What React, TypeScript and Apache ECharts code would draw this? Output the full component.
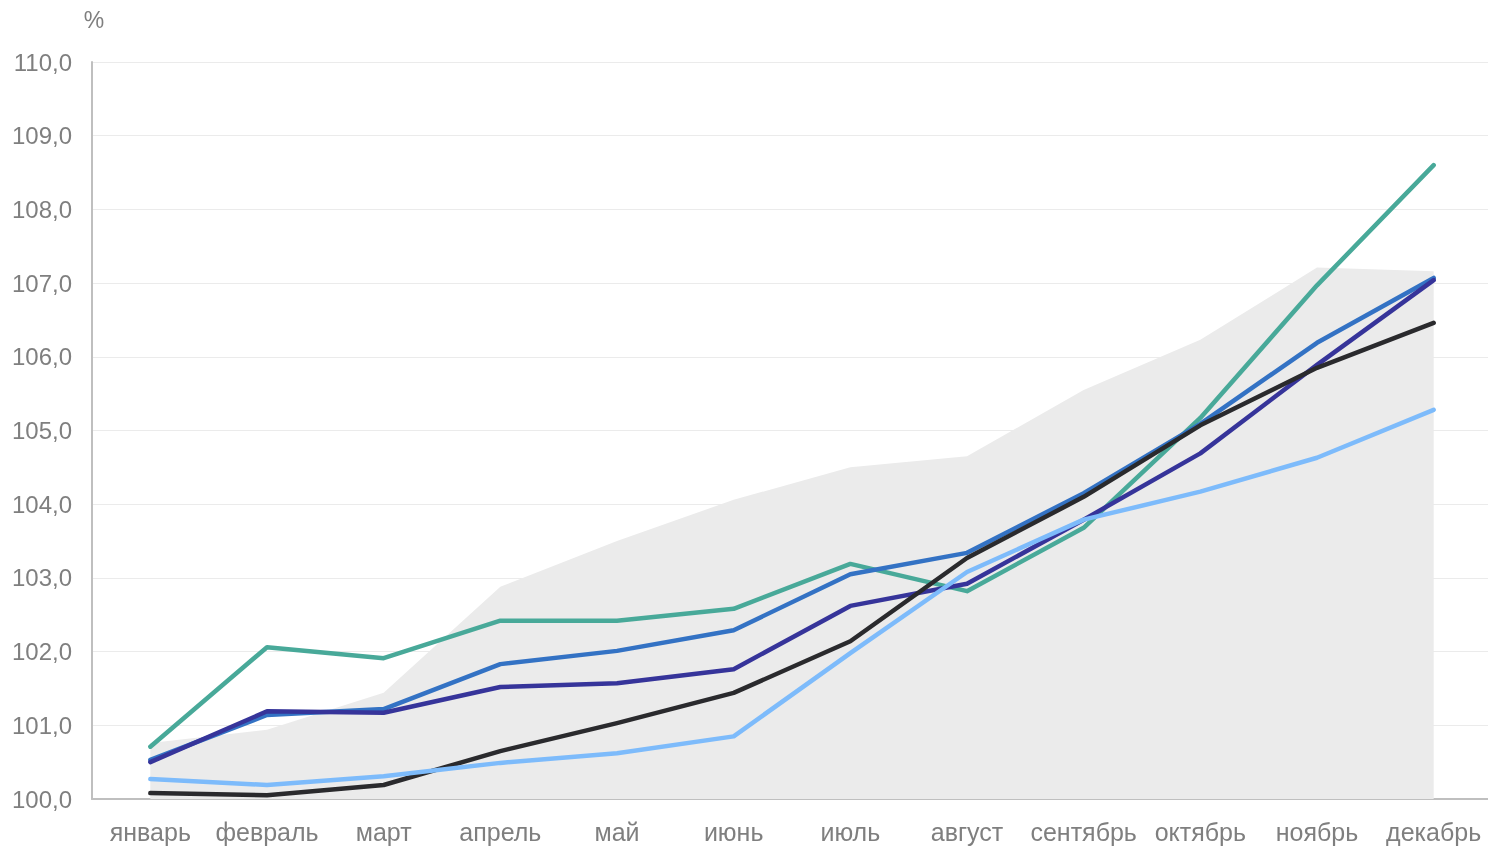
import React, { useEffect, useRef } from "react";
import * as echarts from "echarts";

const months = ["январь", "февраль", "март", "апрель", "май", "июнь", "июль", "август", "сентябрь", "октябрь", "ноябрь", "декабрь"];
const rangeArea = [100.76, 100.94, 101.44, 102.88, 103.5, 104.06, 104.5, 104.65, 105.55, 106.23, 107.21, 107.16];
const tealLine = [100.71, 102.06, 101.91, 102.42, 102.42, 102.58, 103.19, 102.82, 103.68, 105.17, 106.97, 108.6];
const blueLine = [100.53, 101.14, 101.22, 101.83, 102.01, 102.29, 103.05, 103.34, 104.15, 105.09, 106.19, 107.07];
const navyLine = [100.5, 101.19, 101.17, 101.52, 101.57, 101.76, 102.62, 102.92, 103.79, 104.69, 105.89, 107.04];
const blackLine = [100.08, 100.05, 100.19, 100.65, 101.03, 101.44, 102.14, 103.27, 104.1, 105.07, 105.85, 106.46];
const lightLine = [100.27, 100.19, 100.31, 100.49, 100.62, 100.85, 101.98, 103.08, 103.79, 104.17, 104.63, 105.28];

const yMin = 100;
const yMax = 110;
const yStep = 1;

const FONT = "'Liberation Sans', Arial, sans-serif";
const LABEL_COLOR = "#7f7f7f";

export default function App() {
  const ref = useRef<HTMLDivElement>(null);
  useEffect(() => {
    if (!ref.current) return;
    const chart = echarts.init(ref.current, null, { renderer: "svg" });
    const line = (name: string, data: number[], color: string) => ({
      name,
      type: "line",
      data,
      symbol: "none",
      z: 3,
      lineStyle: { color, width: 4.5, cap: "round", join: "round" },
      itemStyle: { color },
    });
    chart.setOption({
      animation: false,
      textStyle: { fontFamily: FONT },
      grid: { left: 92, right: 0, top: 62, bottom: 47, containLabel: false },
      xAxis: {
        type: "category",
        data: months,
        boundaryGap: true,
        axisLine: { show: true, lineStyle: { color: "#bfbfbf", width: 2 } },
        axisTick: { show: false },
        axisLabel: { color: LABEL_COLOR, fontSize: 25, fontFamily: FONT, margin: 20, interval: 0 },
      },
      yAxis: {
        type: "value",
        min: yMin,
        max: yMax,
        interval: yStep,
        name: "%",
        nameLocation: "end",
        nameGap: 31,
        nameTextStyle: { color: LABEL_COLOR, fontSize: 23, fontFamily: FONT, align: "center", padding: [0, 0, 0, 4] },
        axisLine: { show: true, lineStyle: { color: "#bfbfbf", width: 2 } },
        axisTick: { show: false },
        splitLine: { show: true, lineStyle: { color: "#ebebeb", width: 1 } },
        axisLabel: {
          color: LABEL_COLOR,
          fontSize: 24,
          fontFamily: FONT,
          margin: 20,
          formatter: (v: number) => v.toFixed(1).replace(".", ","),
        },
      },
      series: [
        {
          name: "range",
          type: "line",
          data: rangeArea,
          symbol: "none",
          z: 1,
          lineStyle: { width: 0 },
          areaStyle: { color: "#ebebeb", opacity: 1, origin: "start" },
          itemStyle: { color: "#ebebeb" },
        },
        line("teal", tealLine, "#48a999"),
        line("blue", blueLine, "#3372c4"),
        line("navy", navyLine, "#36349a"),
        line("black", blackLine, "#2a2a2d"),
        line("light", lightLine, "#7dbbfb"),
      ],
    });
    return () => chart.dispose();
  }, []);
  return (
    <div style={{ position: "fixed", left: 0, top: 0, width: 1488, height: 846, overflow: "hidden" }}>
      <div ref={ref} style={{ width: 1492, height: 846 }} />
    </div>
  );
}
